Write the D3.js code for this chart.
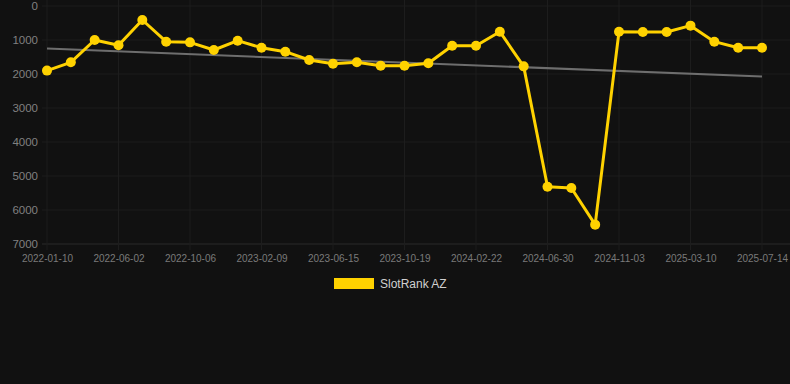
<!DOCTYPE html>
<html>
<head>
<meta charset="utf-8">
<script src="https://cdn.jsdelivr.net/npm/d3@7"></script>
<style>
  html, body { margin: 0; padding: 0; background: #111111; }
  svg { display: block; font-family: Arial, "Liberation Sans", sans-serif; }
</style>
</head>
<body>
<svg id="chart"></svg>
<script>
// dates on the x axis (only every 3rd is labelled)
const dates = [
  "2022-01-10", "2022-02-24", "2022-04-11", "2022-06-02", "2022-07-14", "2022-08-25",
  "2022-10-06", "2022-11-17", "2022-12-29", "2023-02-09", "2023-03-23", "2023-05-04",
  "2023-06-15", "2023-07-27", "2023-09-07", "2023-10-19", "2023-11-30", "2024-01-11",
  "2024-02-22", "2024-04-04", "2024-05-16", "2024-06-30", "2024-08-11", "2024-09-22",
  "2024-11-03", "2024-12-10", "2025-01-23", "2025-03-10", "2025-04-21", "2025-06-02",
  "2025-07-14"
];

// SlotRank AZ values
const ranks = [
  1900, 1657, 1000, 1157, 412, 1049, 1069, 1294, 1020, 1226, 1343, 1588,
  1696, 1657, 1755, 1755, 1686, 1167, 1167, 755, 1775, 5314, 5353, 6431,
  755, 765, 765, 578, 1049, 1226, 1226
];

const yTicks = [0, 1000, 2000, 3000, 4000, 5000, 6000, 7000];
const seriesName = "SlotRank AZ";

const width = 790, height = 384;
const yellow = "#ffd200";

let svg = d3.select("#chart")
    .attr("width", width)
    .attr("height", height);

let x = d3.scalePoint()
    .domain(dates)
    .range([47, 762]);

let y = d3.scaleLinear()
    .domain([0, 7000])
    .range([6, 244]);

// horizontal grid
svg.append("g")
  .selectAll("line")
  .data(yTicks)
  .join("line")
    .attr("x1", 42)
    .attr("x2", width)
    .attr("y1", d => y(d))
    .attr("y2", d => y(d))
    .attr("stroke", d => d === 7000 ? "#2a2a2a" : "#1d1d1d")
    .attr("stroke-width", 1);

// vertical grid, only at labelled dates
let shown = dates.filter((d, i) => i % 3 === 0);
svg.append("g")
  .selectAll("line")
  .data(shown)
  .join("line")
    .attr("x1", d => x(d))
    .attr("x2", d => x(d))
    .attr("y1", 0)
    .attr("y2", 250)
    .attr("stroke", "#1d1d1d")
    .attr("stroke-width", 1);

// y axis labels
let yAxis = svg.append("g")
    .attr("transform", "translate(42,0)")
    .call(d3.axisLeft(y).tickValues(yTicks).tickSize(0).tickPadding(4).tickFormat(d3.format("d")));
yAxis.select(".domain").remove();
yAxis.selectAll("text")
    .attr("fill", "#808080")
    .attr("font-size", "11.5px")
    .attr("font-family", "Arial, 'Liberation Sans', sans-serif");

// x axis labels
let xAxis = svg.append("g")
    .attr("transform", "translate(0,250)")
    .call(d3.axisBottom(x).tickValues(shown).tickSize(0).tickPadding(5));
xAxis.select(".domain").remove();
xAxis.selectAll("text")
    .attr("fill", "#7a7a7a")
    .attr("font-size", "10px")
    .attr("font-family", "Arial, 'Liberation Sans', sans-serif");

// trend line (least squares over the series)
let n = ranks.length;
let mx = d3.mean(ranks, (d, i) => i);
let my = d3.mean(ranks);
let slope = d3.sum(ranks, (d, i) => (i - mx) * (d - my)) / d3.sum(ranks, (d, i) => (i - mx) * (i - mx));
let icpt = my - slope * mx;
svg.append("line")
    .attr("x1", x(dates[0]))
    .attr("x2", x(dates[n - 1]))
    .attr("y1", y(icpt))
    .attr("y2", y(icpt + slope * (n - 1)))
    .attr("stroke", "#6e6e6e")
    .attr("stroke-width", 2);

// main line
let line = d3.line()
    .x((d, i) => x(dates[i]))
    .y(d => y(d));

svg.append("path")
    .datum(ranks)
    .attr("d", line)
    .attr("fill", "none")
    .attr("stroke", yellow)
    .attr("stroke-width", 3)
    .attr("stroke-linejoin", "round");

svg.append("g")
  .selectAll("circle")
  .data(ranks)
  .join("circle")
    .attr("cx", (d, i) => x(dates[i]))
    .attr("cy", d => y(d))
    .attr("r", 5)
    .attr("fill", yellow);

// legend
let legend = svg.append("g").attr("transform", "translate(334,278)");
legend.append("rect")
    .attr("width", 40)
    .attr("height", 11)
    .attr("fill", yellow);
legend.append("text")
    .attr("x", 46)
    .attr("y", 6)
    .attr("dy", "0.35em")
    .attr("fill", "#d0d0d0")
    .attr("font-size", "12px")
    .text(seriesName);
</script>
</body>
</html>
